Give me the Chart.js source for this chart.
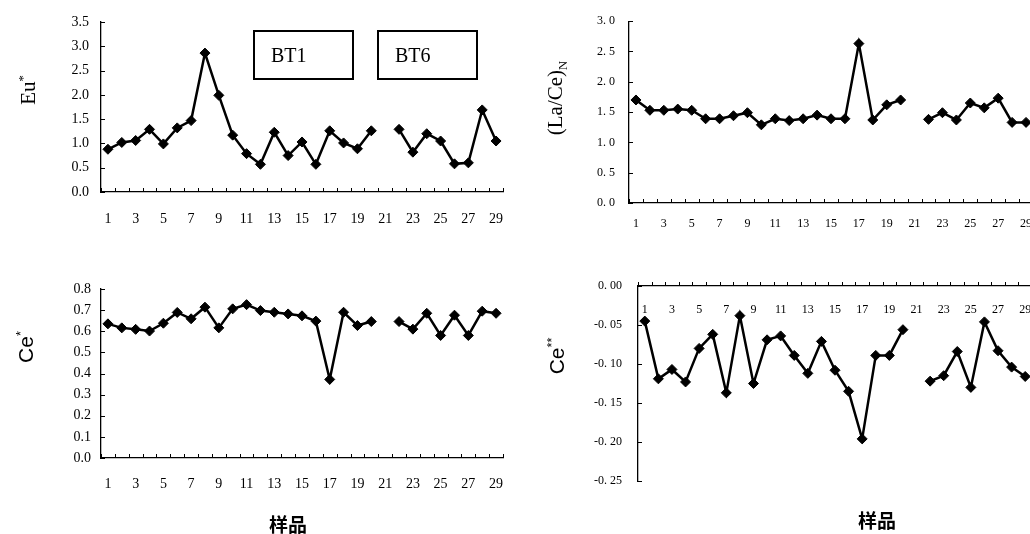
<!DOCTYPE html>
<html lang="zh">
<head>
<meta charset="UTF-8">
<title>Eu*, (La/Ce)N, Ce*, Ce** 样品变化</title>
<script src="https://cdn.jsdelivr.net/npm/chart.js"></script>
<style>
    html, body { margin: 0; padding: 0; background: #fff; width: 1030px; height: 534px; overflow: hidden; }
    .panel { position: absolute; }
    .ytitle { position: absolute; transform: translate(-50%, -50%) rotate(-90deg); white-space: nowrap; color: #000; font-size: 21px; }
    .serif { font-family: "Liberation Serif", "DejaVu Serif", serif; }
    .sans { font-family: "Liberation Sans", Arial, sans-serif; }
    .xtitle { position: absolute; transform: translate(-50%, -50%); font-family: "Noto Sans CJK SC", sans-serif; font-weight: bold; font-size: 19px; color: #000; }
    .tag { position: absolute; top: 30px; width: 101px; height: 50px; box-sizing: border-box; border: 2px solid #000;
           font-family: "Liberation Serif", serif; font-size: 20px; line-height: 46px; padding-left: 16px; color: #000; }
    sup { font-size: 60%; }
    sub { font-size: 60%; }
</style>
</head>
<body>
<canvas id="euChart" class="panel" width="515" height="235" style="left:0;top:0"></canvas>
<canvas id="laceChart" class="panel" width="535" height="235" style="left:515px;top:0"></canvas>
<canvas id="ceChart" class="panel" width="515" height="294" style="left:0;top:240px"></canvas>
<canvas id="ce2Chart" class="panel" width="535" height="294" style="left:515px;top:240px"></canvas>

<div class="ytitle serif" style="left:28px;top:90px">Eu<sup>*</sup></div>
<div class="ytitle serif" style="left:557px;top:98px">(La/Ce)<sub>N</sub></div>
<div class="ytitle sans" style="left:26px;top:347px">Ce<sup>*</sup></div>
<div class="ytitle sans" style="left:557px;top:356px">Ce<sup>**</sup></div>
<div class="xtitle" style="left:288px;top:523px">样品</div>
<div class="xtitle" style="left:877px;top:519px">样品</div>
<div class="tag" style="left:253px">BT1</div>
<div class="tag" style="left:377px">BT6</div>

<script>
    // sample numbers 1..29 (sample 21 has no data)
    const samples = ['1','2','3','4','5','6','7','8','9','10','11','12','13','14','15',
                     '16','17','18','19','20','21','22','23','24','25','26','27','28','29'];

    const euStar = [0.88, 1.02, 1.06, 1.29, 0.99, 1.32, 1.47, 2.86, 1.99, 1.17, 0.79, 0.57, 1.23, 0.75, 1.03,
                    0.57, 1.26, 1.01, 0.89, 1.26, null, 1.29, 0.82, 1.20, 1.05, 0.58, 0.60, 1.69, 1.05];

    const laCeN = [1.70, 1.53, 1.53, 1.55, 1.53, 1.39, 1.39, 1.44, 1.49, 1.29, 1.39, 1.36, 1.39, 1.45, 1.39,
                   1.39, 2.63, 1.37, 1.62, 1.70, null, 1.38, 1.49, 1.37, 1.65, 1.57, 1.73, 1.33, 1.33];

    const ceStar = [0.635, 0.616, 0.609, 0.601, 0.638, 0.689, 0.659, 0.714, 0.616, 0.706, 0.726, 0.698, 0.690, 0.682, 0.673,
                    0.648, 0.372, 0.690, 0.627, 0.646, null, 0.646, 0.610, 0.685, 0.580, 0.676, 0.580, 0.695, 0.685];

    const ceStar2 = [-0.045, -0.119, -0.107, -0.123, -0.080, -0.062, -0.137, -0.038, -0.125, -0.069, -0.064, -0.089, -0.112, -0.071, -0.108,
                     -0.135, -0.196, -0.089, -0.089, -0.056, null, -0.122, -0.115, -0.084, -0.130, -0.046, -0.083, -0.104, -0.116];

    // small tick marks drawn inside the axes, like the printed figure
    const innerTicks = {
        id: 'innerTicks',
        afterDraw(chart) {
            const ctx = chart.ctx;
            const x = chart.scales.x, y = chart.scales.y;
            const axisY = y.getPixelForValue(0);
            ctx.save();
            ctx.strokeStyle = '#000';
            ctx.lineWidth = 1;
            ctx.beginPath();
            for (let i = 0; i <= samples.length; i++) {
                const px = Math.round(x.getPixelForValue(i - 0.5)) + 0.5;
                ctx.moveTo(px, axisY);
                ctx.lineTo(px, axisY - 4);
            }
            y.ticks.forEach(t => {
                const py = Math.round(y.getPixelForValue(t.value)) + 0.5;
                ctx.moveTo(y.right, py);
                ctx.lineTo(y.right + 4, py);
            });
            ctx.stroke();
            ctx.restore();
        }
    };

    function makeChart(id, values, opt) {
        return new Chart(document.getElementById(id), {
            type: 'line',
            data: {
                labels: samples,
                datasets: [{
                    data: values,
                    borderColor: '#000',
                    borderWidth: 2.5,
                    tension: 0,
                    spanGaps: false,
                    pointStyle: 'rectRot',
                    pointRadius: 5,
                    pointBackgroundColor: '#000',
                    pointBorderColor: '#000',
                    pointBorderWidth: 1
                }]
            },
            options: {
                responsive: false,
                animation: false,
                devicePixelRatio: 1,
                layout: { padding: opt.padding },
                plugins: { legend: { display: false }, tooltip: { enabled: false } },
                scales: {
                    x: {
                        type: 'category',
                        offset: true,
                        position: opt.xPos,
                        grid: { display: true, drawOnChartArea: false, drawTicks: false },
                        border: { display: true, color: '#000', width: 1.3 },
                        ticks: {
                            autoSkip: false, maxRotation: 0, padding: opt.xPad, color: '#000', font: opt.font,
                            callback: (v, i) => i % 2 === 0 ? samples[i] : ''
                        },
                        afterFit: s => {
                            if (opt.xHeight) s.height = opt.xHeight;
                            s.paddingLeft = 0;
                            s.paddingRight = 0;
                        }
                    },
                    y: {
                        min: opt.min,
                        max: opt.max,
                        grid: { display: true, drawOnChartArea: false, drawTicks: false },
                        border: { display: true, color: '#000', width: 1.3 },
                        ticks: { stepSize: opt.step, padding: opt.yPad, color: '#000', font: opt.font, callback: opt.fmt },
                        afterFit: s => { s.width = opt.yWidth; }
                    }
                }
            },
            plugins: [innerTicks]
        });
    }

    const leftFont = { family: 'Liberation Serif', size: 14 };
    const rightFont = { family: 'Liberation Serif', size: 12 };

    makeChart('euChart', euStar, {
        min: 0, max: 3.5, step: 0.5, fmt: v => v.toFixed(1),
        padding: { top: 22, right: 12, left: 0, bottom: 0 },
        yWidth: 101, xHeight: 43, xPos: 'bottom', xPad: 19, yPad: 12, font: leftFont
    });

    makeChart('laceChart', laCeN, {
        min: 0, max: 3.0, step: 0.5, fmt: v => v.toFixed(1).replace('.', '. '),
        padding: { top: 15, right: 17, left: 0, bottom: 0 },
        yWidth: 114, xHeight: 32, xPos: 'bottom', xPad: 14, yPad: 14, font: rightFont
    });

    makeChart('ceChart', ceStar, {
        min: 0, max: 0.8, step: 0.1, fmt: v => v.toFixed(1),
        padding: { top: 49, right: 12, left: 0, bottom: 0 },
        yWidth: 101, xHeight: 76, xPos: 'bottom', xPad: 18, yPad: 10, font: leftFont
    });

    makeChart('ce2Chart', ceStar2, {
        min: -0.25, max: 0, step: 0.05, fmt: v => v.toFixed(2).replace('.', '. '),
        padding: { top: 46, right: 18, left: 0, bottom: 53 },
        yWidth: 123, xHeight: 0, xPos: { y: 0 }, xPad: 17, yPad: 16, font: rightFont
    });
</script>
</body>
</html>
